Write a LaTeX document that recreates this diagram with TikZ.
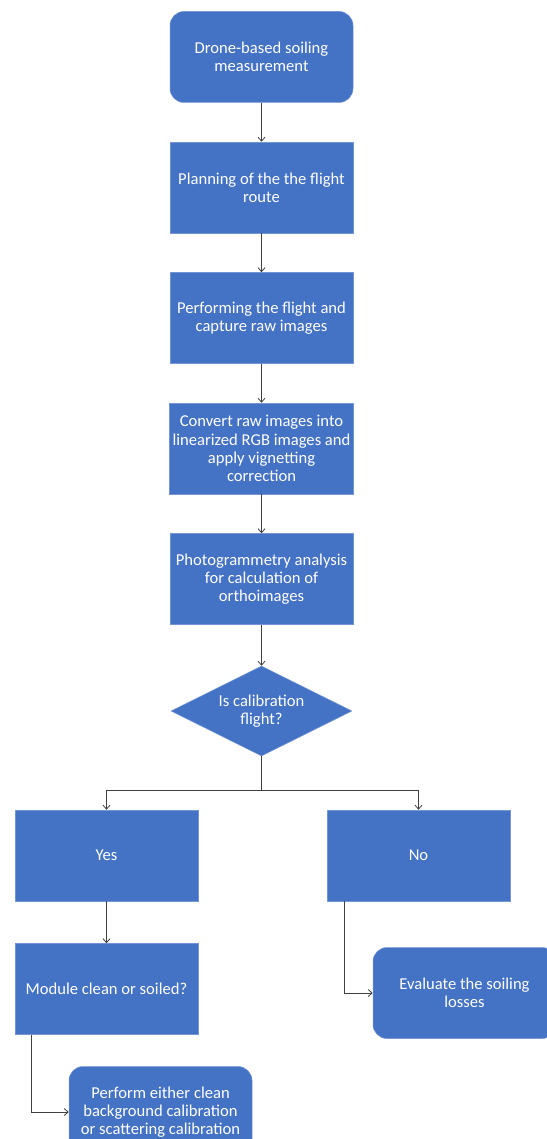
\documentclass[tikz,border=0pt]{standalone}
\usepackage{fontspec}
\setmainfont{Carlito}
\usetikzlibrary{shapes.geometric,arrows.meta}
\definecolor{boxblue}{HTML}{4472C4}
\definecolor{linegray}{HTML}{404040}
\tikzset{
    box/.style={draw=boxblue!75!white, line width=0.5pt, fill=boxblue, text=white,
        minimum width=183pt, minimum height=91pt, align=center,
        font=\fontsize{16.6}{18.3}\selectfont},
    roundbox/.style={box, rounded corners=14pt},
    decision/.style={diamond, aspect=2, draw=boxblue!75!white, line width=0.5pt, fill=boxblue,
        text=white, minimum width=181pt, minimum height=90pt, inner sep=0pt,
        align=center, font=\fontsize{16.6}{18.3}\selectfont},
    flow/.style={draw=linegray, line width=0.8pt, -{Straight Barb[length=4pt,width=7pt]}}
}
\begin{document}
\begin{tikzpicture}[node distance=130.5pt, auto]
        \useasboundingbox (0,0) rectangle (546pt,-1139pt);
        % Define the main column
        \node[roundbox] (start) at (261.5pt,-57pt) {Drone-based soiling\\measurement};
        \node[box, below of=start] (plan) {Planning of the the flight\\route};
        \node[box, below of=plan] (fly) {Performing the flight and\\capture raw images};
        \node[box, below of=fly] (conv) {Convert raw images into\\linearized RGB images and\\apply vignetting\\correction};
        \node[box, below of=conv] (photo) {Photogrammetry analysis\\for calculation of\\orthoimages};
        \node[decision, below of=photo, yshift=-1.5pt] (calib) {Is calibration\\flight?};
        % Define the two branches
        \node[box, below of=calib, xshift=-155pt, yshift=-14pt] (yes) {Yes};
        \node[box, below of=calib, xshift=157pt, yshift=-14pt] (no) {No};
        \node[box, below of=yes, yshift=-3pt] (module) {Module clean or soiled?};
        \node[roundbox, below of=no, xshift=46pt, yshift=-7pt] (eval) {Evaluate the soiling\\losses};
        \node[roundbox, below of=module, xshift=54pt, yshift=7.5pt] (perform) {Perform either clean\\background calibration\\or scattering calibration};
        % Connect the nodes
        \draw[flow] (start) -- (plan);
        \draw[flow] (plan) -- (fly);
        \draw[flow] (fly) -- (conv);
        \draw[flow] (conv) -- (photo);
        \draw[flow] (photo) -- (calib);
        \draw[flow] (calib.south) -- ++(0,-34pt) -| (yes.north);
        \draw[flow] (calib.south) -- ++(0,-34pt) -| (no.north);
        \draw[flow] (yes) -- (module);
        \draw[flow] ([xshift=18pt]no.south west) |- (eval.west);
        \draw[flow] ([xshift=17pt]module.south west) |- (perform.west);
    \end{tikzpicture}
\end{document}
